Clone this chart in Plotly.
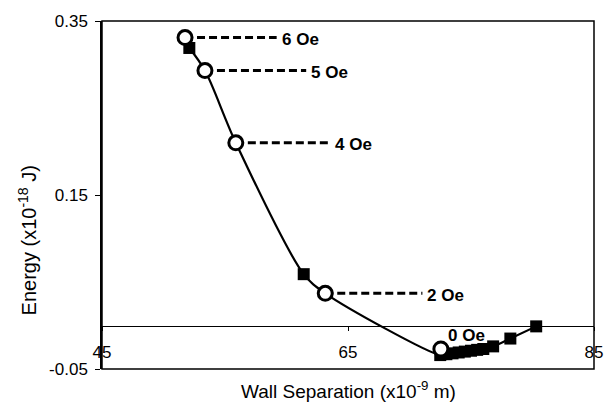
import plotly.graph_objects as go

# Simulated wall energy vs. wall separation (filled squares)
sim_x = [52.1, 61.4, 72.5, 73.0, 73.5, 74.0, 74.5, 75.0, 75.5, 76.0, 76.8, 78.2, 80.3]
sim_y = [0.319, 0.059, -0.034, -0.033, -0.032, -0.031, -0.030, -0.029, -0.028, -0.027, -0.024, -0.015, -0.001]

# Measured equilibrium points for each applied field (open circles)
field_labels = ["6 Oe", "5 Oe", "4 Oe", "2 Oe", "0 Oe"]
field_x = [51.75, 53.37, 55.88, 63.15, 72.55]
field_y = [0.331, 0.293, 0.210, 0.037, -0.027]

# Axis ticks
x_ticks = [45, 65, 85]
y_ticks = [-0.05, 0.15, 0.35]
y_ticktext = ["-0.05", "0.15", "0.35"]

# Where each dashed leader ends (None = label placed beside the marker)
leader_end_x = [59.2, 61.6, 63.5, 71.05, None]

FONT = "Liberation Sans, Arial, Helvetica, sans-serif"

fig = go.Figure()

# Smooth curve through the simulated points and the 5/4/2 Oe measurements
curve = sorted(list(zip(sim_x, sim_y)) + list(zip(field_x[1:4], field_y[1:4])))
fig.add_trace(go.Scatter(
    x=[p[0] for p in curve], y=[p[1] for p in curve],
    mode="lines", line=dict(color="black", width=2.2, shape="spline", smoothing=0.9),
    hoverinfo="skip", showlegend=False,
))

# Dashed leaders from the measured points to their labels
for fx, fy, ex in zip(field_x, field_y, leader_end_x):
    if ex is None:
        continue
    fig.add_trace(go.Scatter(
        x=[fx, ex], y=[fy, fy], mode="lines",
        line=dict(color="black", width=3, dash="8px,4px"),
        hoverinfo="skip", showlegend=False,
    ))

fig.add_trace(go.Scatter(
    x=sim_x, y=sim_y, mode="markers",
    marker=dict(symbol="square", size=12, color="black"),
    showlegend=False,
))

fig.add_trace(go.Scatter(
    x=field_x, y=field_y, mode="markers",
    marker=dict(symbol="circle", size=14, color="white", line=dict(color="black", width=3)),
    showlegend=False,
))

annotations = []
for lab, fx, fy, ex in zip(field_labels, field_x, field_y, leader_end_x):
    if ex is None:
        annotations.append(dict(x=fx, y=fy, text="<b>%s</b>" % lab, showarrow=False,
                                xanchor="left", yanchor="middle", xshift=5, yshift=13,
                                font=dict(family=FONT, size=17, color="black")))
    else:
        annotations.append(dict(x=ex, y=fy, text="<b>%s</b>" % lab, showarrow=False,
                                xanchor="left", yanchor="middle", xshift=3, yshift=-2,
                                font=dict(family=FONT, size=17, color="black")))

annotations.append(dict(xref="paper", yref="paper", x=0.5, y=-0.06,
                        text="Wall Separation (x10<sup>-9</sup> m)", showarrow=False,
                        xanchor="center", yanchor="middle",
                        font=dict(family=FONT, size=19, color="black")))
annotations.append(dict(xref="paper", yref="paper", x=-0.152, y=0.37,
                        text="Energy (x10<sup>-18</sup> J)", showarrow=False, textangle=-90,
                        xanchor="center", yanchor="middle",
                        font=dict(family=FONT, size=20, color="black")))

fig.update_layout(
    width=615, height=407,
    margin=dict(l=102, r=20, t=13, b=38),
    paper_bgcolor="white", plot_bgcolor="white",
    font=dict(family=FONT, size=17, color="black"),
    xaxis=dict(range=[45, 85], tickvals=x_ticks, anchor="free", position=0.125,
               showline=True, linecolor="black", linewidth=1.2,
               ticks="outside", ticklen=4, tickcolor="black",
               showgrid=False, zeroline=False, ticklabelstandoff=7,
               tickfont=dict(family=FONT, size=17, color="black")),
    yaxis=dict(range=[-0.05, 0.35], tickvals=y_ticks, ticktext=y_ticktext,
               showline=True, linecolor="black", linewidth=1.5,
               ticks="outside", ticklen=5, tickcolor="black",
               showgrid=False, zeroline=False, ticklabelstandoff=4,
               tickfont=dict(family=FONT, size=17, color="black")),
    shapes=[dict(type="rect", xref="paper", yref="paper", x0=0, y0=0, x1=1, y1=1,
                 line=dict(color="black", width=1.5))],
    annotations=annotations,
)

fig.write_html("out.html")
